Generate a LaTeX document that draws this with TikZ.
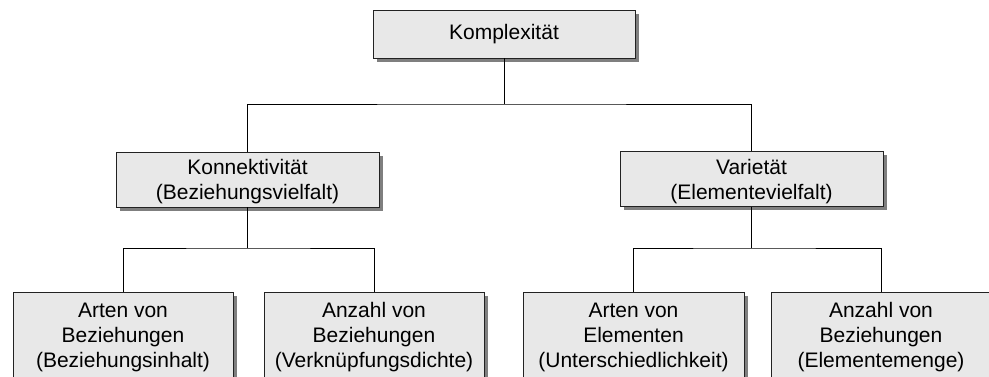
\documentclass[tikz,border=0pt]{standalone}
\usepackage{fontspec}
\setmainfont{Liberation Sans}
\usetikzlibrary{shadows}
\definecolor{boxfill}{HTML}{E8E8E8}
\definecolor{shadowgray}{HTML}{7F7F7F}
\definecolor{edgegray}{HTML}{222222}
\begin{document}
\begin{tikzpicture}[x=1pt,y=-1pt,
  box/.style={draw=edgegray, line width=0.9pt, fill=boxfill, inner sep=0pt,
    drop shadow={shadow xshift=4pt, shadow yshift=-3.5pt, fill=shadowgray, opacity=1}},
  lbl/.style={align=center, inner sep=0pt, font=\fontsize{21}{25}\selectfont},
  conn/.style={draw=black, line width=0.9pt}]
\clip (0,0) rectangle (989,376);
\fill[white] (0,0) rectangle (989,376);
% boxes
\node[box, minimum width=262pt, minimum height=48pt] (top) at (504,34) {};
\node[lbl] (topt) at (504,34) {Komplexit\"at};
\node[box, minimum width=263pt, minimum height=55pt] (midL) at (247.5,179.5) {};
\node[lbl] (midLt) at (247.5,181.5) {Konnektivit\"at\\(Beziehungsvielfalt)};
\node[box, minimum width=263pt, minimum height=55pt] (midR) at (751.5,179) {};
\node[lbl] (midRt) at (751.5,181.5) {Variet\"at\\(Elementevielfalt)};
\node[box, minimum width=220pt, minimum height=96pt] (b1) at (123,340) {};
\node[lbl] (b1t) at (123,337) {Arten von\\Beziehungen\\(Beziehungsinhalt)};
\node[box, minimum width=220pt, minimum height=96pt] (b2) at (374,340) {};
\node[lbl] (b2t) at (374,337) {Anzahl von\\Beziehungen\\(Verkn\"upfungsdichte)};
\node[box, minimum width=221pt, minimum height=96pt] (b3) at (633.5,340) {};
\node[lbl] (b3t) at (633.5,337) {Arten von\\Elementen\\(Unterschiedlichkeit)};
\node[box, minimum width=220pt, minimum height=96pt] (b4) at (881,340) {};
\node[lbl] (b4t) at (881,337) {Anzahl von\\Beziehungen\\(Elementemenge)};
% junctions
\coordinate (j1) at (504,104);
\coordinate (j2) at (247.5,248);
\coordinate (j3) at (751.5,248);
% connectors
\draw[conn] (top.south) -- (j1);
\draw[conn] (midL.north) |- (j1) -| (midR.north);
\draw[conn] (midL.south) -- (j2);
\draw[conn] (b1.north) |- (j2) -| (b2.north);
\draw[conn] (midR.south) -- (j3);
\draw[conn] (b3.north) |- (j3) -| (b4.north);
\end{tikzpicture}
\end{document}
